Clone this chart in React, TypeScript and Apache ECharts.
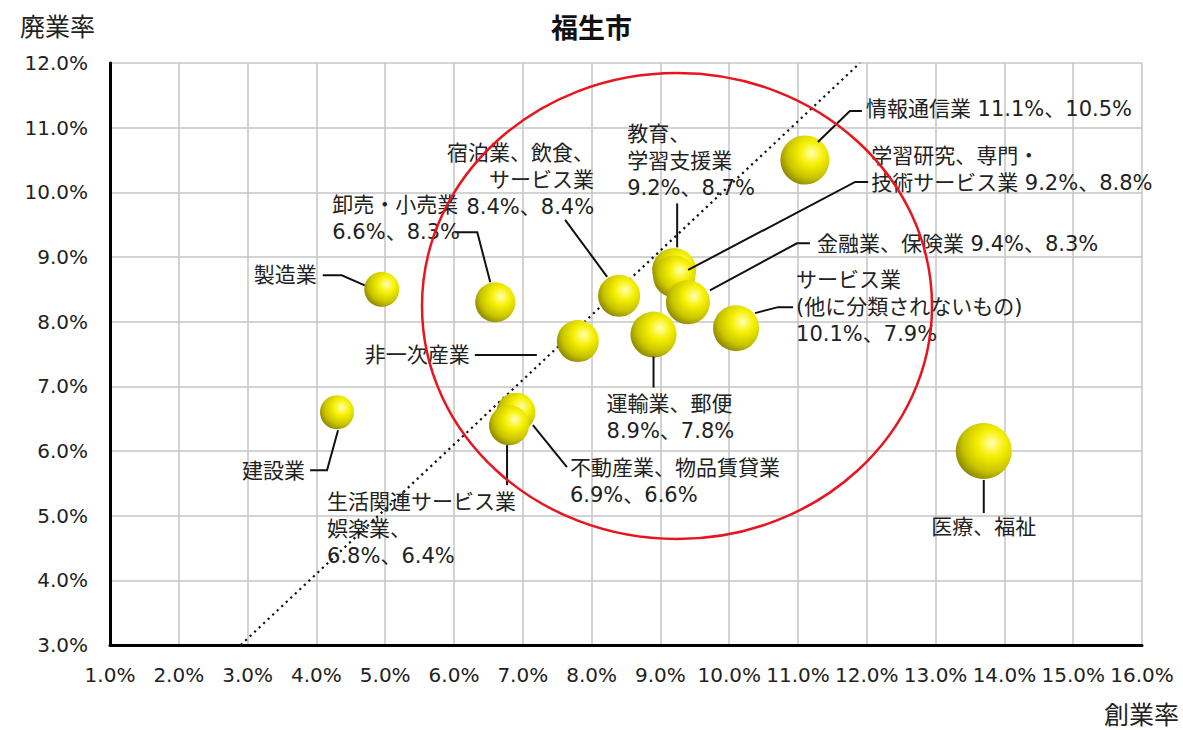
import React, { useEffect, useRef } from "react";
import * as echarts from "echarts";

// 業種別の創業率（x）と廃業率（y）、バブルの大きさ
const industries = [
  "製造業",
  "建設業",
  "非一次産業",
  "卸売・小売業",
  "宿泊業、飲食、サービス業",
  "学習研究、専門・技術サービス業",
  "教育、学習支援業",
  "金融業、保険業",
  "サービス業（他に分類されないもの）",
  "運輸業、郵便",
  "情報通信業",
  "不動産業、物品賃貸業",
  "生活関連サービス業、娯楽業",
  "医療、福祉",
];
const startupRate = [4.95, 4.3, 7.8, 6.6, 8.4, 9.2, 9.2, 9.4, 10.1, 8.9, 11.1, 6.9, 6.8, 13.7];
const closureRate = [8.5, 6.6, 7.7, 8.3, 8.4, 8.8, 8.7, 8.3, 7.9, 7.8, 10.5, 6.6, 6.4, 6.0];
const bubbleSize = [35, 34, 42, 40, 42, 44, 42, 44, 46, 46, 49, 39, 40, 56];

const labelTexts = [
  "製造業",
  "建設業",
  "非一次産業",
  "卸売・小売業\n6.6%、8.3%",
  "宿泊業、飲食、\nサービス業\n8.4%、8.4%",
  "学習研究、専門・\n技術サービス業 9.2%、8.8%",
  "教育、\n学習支援業\n9.2%、8.7%",
  "金融業、保険業 9.4%、8.3%",
  "サービス業\n(他に分類されないもの)\n10.1%、7.9%",
  "運輸業、郵便\n8.9%、7.8%",
  "情報通信業 11.1%、10.5%",
  "不動産業、物品賃貸業\n6.9%、6.6%",
  "生活関連サービス業\n娯楽業、\n6.8%、6.4%",
  "医療、福祉",
];

// 軸の範囲
const xRange = [1, 16];
const yRange = [3, 12];

// 参考線（点線）の両端
const refLineX = [2.9, 11.9];
const refLineY = [3, 12];

// ラベルの配置（バブル中心からのずれ）と引き出し線
type Placement = {
  dx: number;
  dy: number;
  align: "left" | "right" | "center";
  va: "top" | "middle";
  leader: number[][];
};
const placements: Placement[] = [
  { dx: -65, dy: -14, align: "right", va: "middle", leader: [[-17, -4], [-40, -14], [-59, -14]] },
  { dx: -32, dy: 59, align: "right", va: "middle", leader: [[1, 18], [-10, 58], [-27, 58]] },
  { dx: -108, dy: 14, align: "right", va: "middle", leader: [[-41, 14], [-103, 14]] },
  { dx: -163, dy: -111, align: "left", va: "top", leader: [[-5, -20], [-18, -70], [-40, -70]] },
  { dx: -25, dy: -156, align: "right", va: "top", leader: [[-12, -19], [-54, -76]] },
  { dx: 197, dy: -127, align: "left", va: "top", leader: [[14, 0], [181, -88], [194, -88]] },
  { dx: -47, dy: -156, align: "left", va: "top", leader: [[3, -29], [3, -73]] },
  { dx: 129, dy: -58, align: "left", va: "middle", leader: [[22, -12], [109, -59], [122, -59]] },
  { dx: 60, dy: -62, align: "left", va: "top", leader: [[19, -15], [42, -21], [57, -21]] },
  { dx: -47, dy: 56, align: "left", va: "top", leader: [[0, 22], [0, 53]] },
  { dx: 61, dy: -51, align: "left", va: "middle", leader: [[13, -18], [45, -49], [57, -49]] },
  { dx: 54, dy: 42, align: "left", va: "top", leader: [[17, 13], [51, 55]] },
  { dx: -182, dy: 63, align: "left", va: "top", leader: [[-2, 20], [-2, 60]] },
  { dx: 0, dy: 76, align: "center", va: "middle", leader: [[0, 29], [0, 62]] },
];

const FONT = "'DejaVu Sans', 'Noto Sans CJK JP', sans-serif";
const JP_FONT = "'Noto Sans CJK JP', 'DejaVu Sans', sans-serif";

export default function App() {
  const ref = useRef<HTMLDivElement>(null);

  useEffect(() => {
    document.body.style.margin = "0";
    const chart = echarts.init(ref.current!, null, { renderer: "svg" });

    const points = industries.map((_, i) => [startupRate[i], closureRate[i], bubbleSize[i]]);

    const sphere = new echarts.graphic.RadialGradient(0.64, 0.36, 0.78, [
      { offset: 0, color: "#fffdc8" },
      { offset: 0.12, color: "#fffa66" },
      { offset: 0.32, color: "#f4ef00" },
      { offset: 0.65, color: "#c9c400" },
      { offset: 1, color: "#6f6c00" },
    ]);

    const option: echarts.EChartsOption = {
      animation: false,
      title: {
        text: "福生市",
        left: "center",
        top: 8,
        textStyle: { fontSize: 27, fontWeight: "bold", color: "#111", fontFamily: JP_FONT },
      },
      grid: { left: 110, right: 41, top: 63, bottom: 85, containLabel: false },
      xAxis: {
        type: "value",
        min: xRange[0],
        max: xRange[1],
        interval: 1,
        axisLine: { show: true, onZero: false, lineStyle: { color: "#000", width: 3 } },
        axisTick: { show: false },
        axisLabel: {
          margin: 20,
          fontSize: 20,
          color: "#222",
          fontFamily: FONT,
          formatter: (v: number) => v.toFixed(1) + "%",
        },
        splitLine: { show: true, lineStyle: { color: "#c4c4c4", width: 1.5 } },
      },
      yAxis: {
        type: "value",
        min: yRange[0],
        max: yRange[1],
        interval: 1,
        axisLine: { show: true, onZero: false, lineStyle: { color: "#000", width: 3 } },
        axisTick: { show: false },
        axisLabel: {
          margin: 22,
          fontSize: 20,
          color: "#222",
          fontFamily: FONT,
          formatter: (v: number) => v.toFixed(1) + "%",
        },
        splitLine: { show: true, lineStyle: { color: "#c4c4c4", width: 1.5 } },
      },
      series: [
        {
          type: "line",
          z: 2,
          silent: true,
          symbol: "none",
          data: refLineX.map((x, i) => [x, refLineY[i]]),
          lineStyle: { color: "#111", width: 2.2, type: [2.2, 4] },
        },
        {
          type: "scatter",
          z: 3,
          silent: true,
          data: points,
          symbol: "circle",
          symbolSize: (val: number[]) => val[2],
          itemStyle: { color: sphere, opacity: 1 },
        },
        {
          type: "custom",
          z: 4,
          silent: true,
          coordinateSystem: "cartesian2d",
          data: points,
          encode: { x: 0, y: 1 },
          renderItem: (params: any, api: any) => {
            const i = params.dataIndex;
            const c = api.coord([api.value(0), api.value(1)]);
            const p = placements[i];
            return {
              type: "group",
              children: [
                {
                  type: "polyline",
                  shape: { points: p.leader.map((o) => [c[0] + o[0], c[1] + o[1]]) },
                  style: { stroke: "#111", lineWidth: 2, fill: null },
                },
                {
                  type: "text",
                  x: c[0] + p.dx,
                  y: c[1] + p.dy,
                  style: {
                    text: labelTexts[i],
                    fill: "#222",
                    fontSize: 21,
                    fontFamily: FONT,
                    lineHeight: 27,
                    align: p.align,
                    verticalAlign: p.va,
                  },
                },
              ],
            };
          },
        },
      ],
      graphic: [
        {
          type: "ellipse",
          z: 10,
          silent: true,
          shape: { cx: 677, cy: 306, rx: 255, ry: 233 },
          style: { fill: null, stroke: "#e8141e", lineWidth: 2.5 },
        },
        {
          type: "text",
          left: 20,
          top: 12,
          style: { text: "廃業率", fontSize: 25, fill: "#222", fontFamily: JP_FONT },
        },
        {
          type: "text",
          right: 4,
          top: 700,
          style: { text: "創業率", fontSize: 25, fill: "#222", fontFamily: JP_FONT },
        },
      ],
    };

    chart.setOption(option);
    return () => chart.dispose();
  }, []);

  return <div ref={ref} style={{ width: 1183, height: 730 }} />;
}
